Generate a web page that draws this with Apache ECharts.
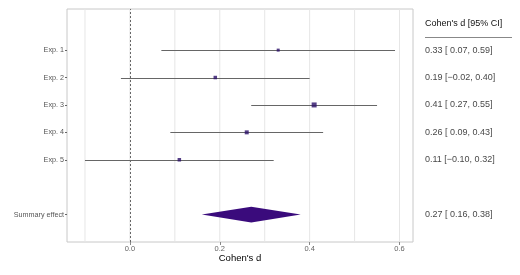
<!DOCTYPE html>
<html><head><meta charset="utf-8">
<script src="https://cdn.jsdelivr.net/npm/echarts@6/dist/echarts.min.js"></script>
<style>html,body{margin:0;padding:0;background:#fff}#c{width:520px;height:275px}</style>
</head><body><div id="c"></div>
<script>
const studies = ["Exp. 1","Exp. 2","Exp. 3","Exp. 4","Exp. 5"];
const rowPos = [6,5,4,3,2];
const est = [0.33,0.19,0.41,0.26,0.11];
const lower = [0.07,-0.02,0.27,0.09,-0.10];
const upper = [0.59,0.40,0.55,0.43,0.32];
const ptSize = [3,3.5,5,4,3.5];
const summaryLabel = "Summary effect";
const summaryPos = 0;
const summary = [0.27,0.16,0.38];
const xTicks = [0,0.2,0.4,0.6];
const xGrid = [-0.1,0,0.1,0.2,0.3,0.4,0.5,0.6];
const fmt = v => (v<0?"\u2212":" ")+Math.abs(v).toFixed(2);
const rowText = est.map((e,i)=> e.toFixed(2)+" ["+fmt(lower[i])+", "+upper[i].toFixed(2)+"]");
const summaryText = summary[0].toFixed(2)+" ["+fmt(summary[1])+", "+summary[2].toFixed(2)+"]";
const FONT = "Liberation Sans, Arial, Helvetica, sans-serif";

const chart = echarts.init(document.getElementById('c'));
const labelMap = {}; rowPos.forEach((p,i)=>labelMap[p]=studies[i]); labelMap[summaryPos]=summaryLabel;
chart.setOption({
  animation:false,
  grid:[{left:67,right:107,top:9,bottom:33,show:true,borderColor:'#c8c8c8',borderWidth:1},
        {left:425,right:0,top:9,bottom:33,show:false}],
  xAxis:[{type:'value',gridIndex:0,min:-0.14,max:0.63,
    name:"Cohen's d",nameLocation:'middle',nameGap:16,nameMoveOverlap:false,
    nameTextStyle:{color:'#000',fontSize:9.5,fontFamily:FONT,verticalAlign:'middle'},
    axisLine:{show:false,onZero:false},
    axisTick:{show:true,customValues:xTicks,length:3,lineStyle:{color:'#888'}},
    axisLabel:{customValues:xTicks,formatter:v=>v.toFixed(1),color:'#666',fontSize:7.5,fontFamily:FONT,margin:3},
    splitLine:{show:false}},
   {type:'value',gridIndex:1,min:0,max:1,show:false}],
  yAxis:[{type:'value',gridIndex:0,min:-1,max:7.5,
    axisLine:{show:false,onZero:false},
    axisTick:{show:true,customValues:[0,2,3,4,5,6],length:2,lineStyle:{color:'#666'}},
    axisLabel:{customValues:[0,2,3,4,5,6],formatter:v=>labelMap[v]||'',color:'#555',fontSize:7.2,fontFamily:FONT,margin:3},
    splitLine:{show:false}},
   {type:'value',gridIndex:1,min:-1,max:7.5,show:false}],
  series:[
    {type:'custom',xAxisIndex:0,yAxisIndex:0,z:1,silent:true,
     data:xGrid.map(v=>[v]),
     renderItem:(p,api)=>{const a=api.coord([api.value(0),-1]);const b=api.coord([api.value(0),7.5]);
       return {type:'line',shape:{x1:a[0],y1:a[1],x2:b[0],y2:b[1]},style:{stroke:'#e6e6e6',lineWidth:1}};}},
    {type:'custom',xAxisIndex:0,yAxisIndex:0,z:2,silent:true,data:[[0]],
     renderItem:(p,api)=>{const a=api.coord([api.value(0),-1]);const b=api.coord([api.value(0),7.5]);
       return {type:'line',shape:{x1:Math.round(a[0])+0.5,y1:a[1],x2:Math.round(b[0])+0.5,y2:b[1]},style:{stroke:'#666',lineWidth:1,lineDash:[2,2]}};}},
    {type:'custom',xAxisIndex:0,yAxisIndex:0,z:3,silent:true,
     data:rowPos.map((p,i)=>[lower[i],upper[i],p]),
     renderItem:(p,api)=>{const a=api.coord([api.value(0),api.value(2)]);const b=api.coord([api.value(1),api.value(2)]);
       return {type:'line',shape:{x1:a[0],y1:Math.round(a[1])+0.5,x2:b[0],y2:Math.round(b[1])+0.5},style:{stroke:'#666',lineWidth:1}};}},
    {type:'scatter',xAxisIndex:0,yAxisIndex:0,z:4,symbol:'rect',
     data:rowPos.map((p,i)=>({value:[est[i],p],symbolSize:ptSize[i]})),
     itemStyle:{color:'#2a0f68'}},
    {type:'custom',xAxisIndex:0,yAxisIndex:0,z:4,silent:true,
     data:[[summary[0],summary[1],summary[2],summaryPos]],
     renderItem:(p,api)=>{const y=api.value(3);
       const pts=[api.coord([api.value(1),y]),api.coord([api.value(0),y+0.29]),api.coord([api.value(2),y]),api.coord([api.value(0),y-0.29])];
       return {type:'polygon',shape:{points:pts},style:{fill:'#3a0b7c'}};}},
    {type:'scatter',xAxisIndex:1,yAxisIndex:1,symbolSize:0,silent:true,
     data:rowPos.map((p,i)=>({value:[0,p],label:{formatter:rowText[i]}})).concat([{value:[0,summaryPos],label:{formatter:summaryText}}]),
     label:{show:true,position:'right',distance:0,color:'#111',fontSize:9,fontFamily:FONT}}
  ],
  graphic:[
    {type:'text',left:425,top:19,style:{text:"Cohen's d [95% CI]",fill:'#111',font:'9px '+FONT}},
    {type:'line',shape:{x1:425,y1:37.5,x2:512,y2:37.5},style:{stroke:'#888',lineWidth:1}}
  ]
});
</script></body></html>
